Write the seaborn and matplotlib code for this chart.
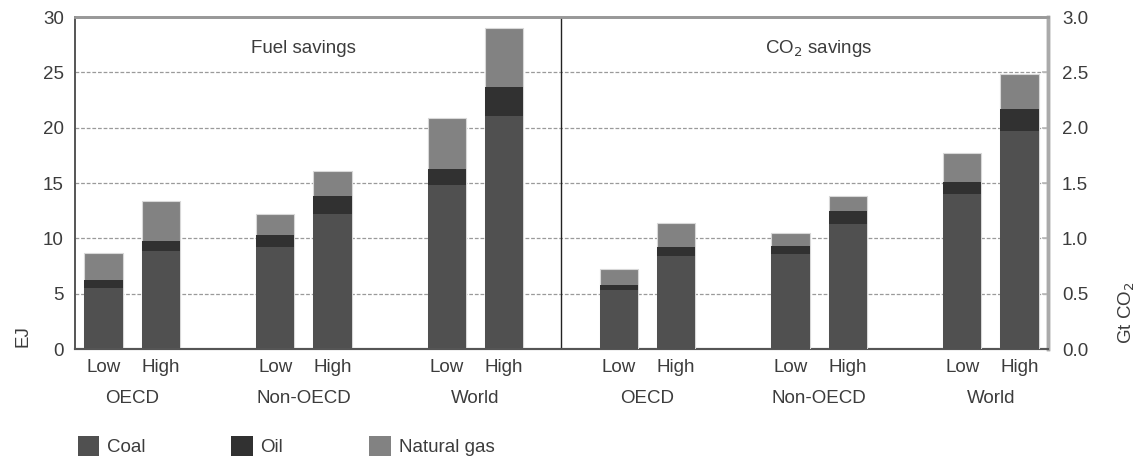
import matplotlib
matplotlib.use("Agg")
import matplotlib.pyplot as plt
from matplotlib.patches import Patch
import matplotlib.transforms as mtransforms
import numpy as np
import pandas as pd
import seaborn as sns

# data
regions = ['OECD', 'Non-OECD', 'World']
cases = ['Low', 'High']
fuels = ['Coal', 'Oil', 'Natural gas']

# fuel savings, EJ (order: OECD low/high, Non-OECD low/high, World low/high)
fuel_coal = [5.5, 8.9, 9.2, 12.2, 14.8, 21.1]
fuel_oil = [0.7, 0.9, 1.1, 1.6, 1.5, 2.6]
fuel_gas = [2.5, 3.6, 1.9, 2.3, 4.6, 5.3]

# CO2 savings, Gt CO2
co2_coal = [0.53, 0.84, 0.86, 1.13, 1.40, 1.97]
co2_oil = [0.05, 0.08, 0.07, 0.12, 0.11, 0.20]
co2_gas = [0.14, 0.22, 0.12, 0.13, 0.26, 0.32]

fuel_colors = ['#505050', '#313131', '#828282']
text_color = '#3c3c3c'
fs = 13.5

sns.set_theme(style='white')
plt.rcParams['font.family'] = ['Liberation Sans Narrow', 'Liberation Sans', 'DejaVu Sans']
plt.rcParams['font.size'] = fs


def stacked_frame(coal, oil, gas, offset):
    pos = [offset + 3 * g + c for g in range(len(regions)) for c in range(len(cases))]
    df = pd.DataFrame({'pos': pos, 'coal': coal, 'oil': oil, 'gas': gas})
    df['coal_oil'] = df['coal'] + df['oil']
    df['total'] = df['coal_oil'] + df['gas']
    return df


left = stacked_frame(fuel_coal, fuel_oil, fuel_gas, 0)
right = stacked_frame(co2_coal, co2_oil, co2_gas, 9)

fig, ax = plt.subplots(figsize=(11.46, 4.63), dpi=100)
fig.subplots_adjust(left=0.0654, right=0.9145, bottom=0.246, top=0.963)
ax2 = ax.twinx()

for axis, df in [(ax, left), (ax2, right)]:
    for col, c, edge in [('total', fuel_colors[2], '#d8d8d8'),
                         ('coal_oil', fuel_colors[1], 'none'),
                         ('coal', fuel_colors[0], 'none')]:
        sns.barplot(data=df, x='pos', y=col, native_scale=True, width=0.67,
                    color=c, saturation=1, errorbar=None, edgecolor=edge,
                    linewidth=0.8, ax=axis, zorder=3)

ax.set_xlim(-0.5, 16.5)
ax.set_ylim(0, 30)
ax2.set_ylim(0, 3.0)
ax.set_yticks(np.arange(0, 31, 5))
ax2.set_yticks(np.arange(0, 3.01, 0.5))
ax2.set_yticklabels([f'{v:.1f}' for v in np.arange(0, 3.01, 0.5)])

# grid
for v in range(5, 30, 5):
    ax.axhline(v, color='#9a9a9a', lw=0.9, ls=(0, (3, 1.5)), zorder=1)
ax.axvline(8, color='#222222', lw=1.0, zorder=4)

# x ticks: case labels at bars, small ticks at group edges
bar_pos = list(left['pos']) + list(right['pos'])
ax.set_xticks(bar_pos)
ax.set_xticklabels(cases * 6, color=text_color, fontsize=fs)
ax.tick_params(axis='x', which='major', length=0, pad=7)
ax.set_xticks([1.5, 2.5, 4.5, 5.5, 7.5, 8.5, 10.5, 11.5, 13.5, 14.5], minor=True)
ax.tick_params(axis='x', which='minor', direction='in', length=4, color='#555555', width=1)
ax.tick_params(axis='y', length=0, labelcolor=text_color, labelsize=fs, pad=8)
ax2.tick_params(axis='y', direction='in', length=4, color='#bbbbbb', labelcolor=text_color,
                labelsize=fs, pad=10)

trans = mtransforms.blended_transform_factory(ax.transData, ax.transAxes)
for offset in [0, 9]:
    for g, name in enumerate(regions):
        ax.text(offset + 3 * g + 0.5, -0.148, name, transform=trans,
                ha='center', va='center', color=text_color, fontsize=fs)

ax.text(3.5, 27.2, 'Fuel savings', ha='center', va='center', color=text_color, fontsize=fs)
ax.text(12.5, 27.2, 'CO$_2$ savings', ha='center', va='center', color=text_color, fontsize=fs)

ax.set_xlabel('')
ax2.set_xlabel('')
ax.set_ylabel('EJ', color=text_color, fontsize=fs)
ax.yaxis.set_label_coords(-0.045, 0.04)
ax2.set_ylabel('Gt CO$_2$', color=text_color, fontsize=fs)
ax2.yaxis.set_label_coords(1.071, 0.11)

for axis in [ax, ax2]:
    axis.spines['left'].set_color('#555555')
    axis.spines['left'].set_linewidth(1.2)
    axis.spines['bottom'].set_color('#555555')
    axis.spines['bottom'].set_linewidth(1.5)
    axis.spines['right'].set_color('#aaaaaa')
    axis.spines['right'].set_linewidth(2.5)
    axis.spines['top'].set_color('#999999')
    axis.spines['top'].set_linewidth(2)

handles = [Patch(facecolor=c, edgecolor='none') for c in fuel_colors]
leg = fig.legend(handles, fuels, loc='center left', bbox_to_anchor=(0.053, 0.036),
                 ncol=3, frameon=False, handlelength=1.15, handleheight=1.25,
                 handletextpad=0.4, columnspacing=4.6, fontsize=fs)
for t in leg.get_texts():
    t.set_color(text_color)

fig.savefig('out.png', dpi=100)
